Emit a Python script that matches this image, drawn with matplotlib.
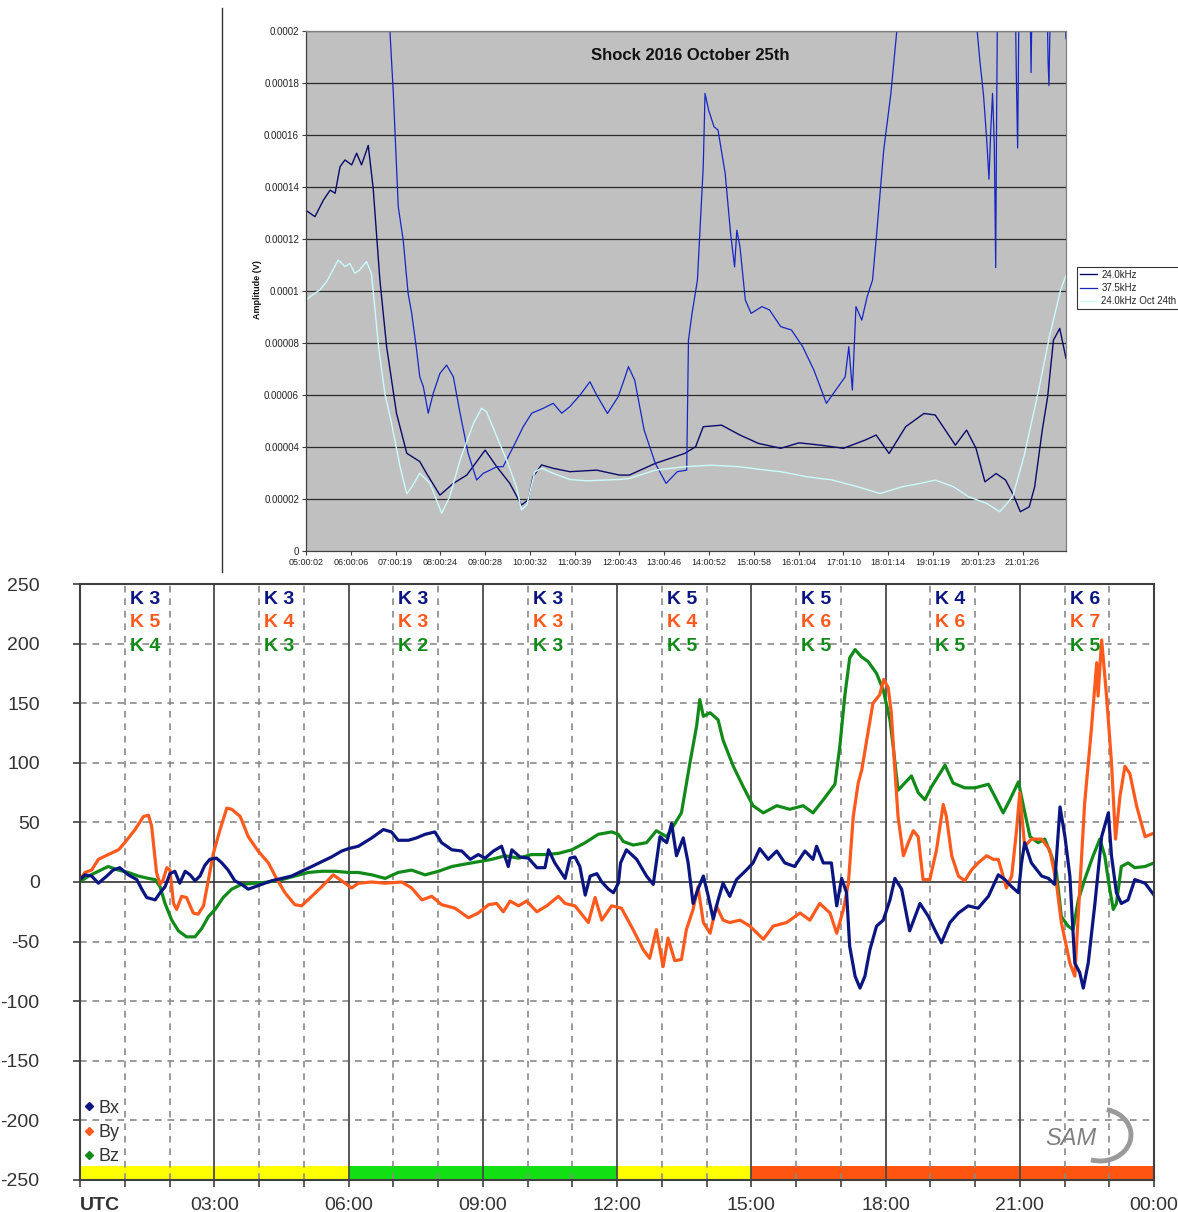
import numpy as np
import matplotlib
matplotlib.use("Agg")
import matplotlib.pyplot as plt
from matplotlib.lines import Line2D
from matplotlib.patches import Arc

plt.rcParams['font.family'] = ['Liberation Sans', 'DejaVu Sans']

# ---------------- top chart: VLF amplitude (values in 1e-5 V, time in hours UTC)
vlf_tick_labels = ["05:00:02", "06:00:06", "07:00:19", "08:00:24", "09:00:28",
                   "10:00:32", "11:00:39", "12:00:43", "13:00:46", "14:00:52",
                   "15:00:58", "16:01:04", "17:01:10", "18:01:14", "19:01:19",
                   "20:01:23", "21:01:26"]
amp_tick_labels = ["0", "0.00002", "0.00004", "0.00006", "0.00008", "0.0001",
                   "0.00012", "0.00014", "0.00016", "0.00018", "0.0002"]

h24 = [5.00, 5.20, 5.39, 5.54, 5.65, 5.76, 5.87, 6.02, 6.13, 6.24, 6.39, 6.50, 6.65,
       6.80, 7.02, 7.25, 7.54, 7.69, 7.99, 8.29, 8.59, 9.00, 9.26, 9.55, 9.81, 9.96,
       10.07, 10.26, 10.52, 10.89, 11.49, 12.00, 12.22, 12.80, 13.45, 13.70, 13.87,
       14.28, 14.69, 15.10, 15.60, 16.01, 16.50, 17.00, 17.49, 17.73, 18.02, 18.39,
       18.80, 19.05, 19.50, 19.75, 19.96, 20.16, 20.41, 20.62, 20.78, 20.95, 21.15,
       21.27, 21.44, 21.56, 21.69, 21.83, 21.97]
v24 = [13.10, 12.86, 13.50, 13.88, 13.76, 14.78, 15.04, 14.85, 15.30, 14.85, 15.60,
       13.95, 10.42, 7.86, 5.30, 3.76, 3.44, 2.99, 2.15, 2.60, 2.92, 3.88, 3.24, 2.60,
       1.77, 1.96, 2.86, 3.31, 3.18, 3.05, 3.11, 2.92, 2.92, 3.37, 3.75, 4.01, 4.78,
       4.84, 4.46, 4.14, 3.95, 4.16, 4.07, 3.95, 4.27, 4.46, 3.75, 4.78, 5.29, 5.23,
       4.07, 4.65, 3.95, 2.66, 2.98, 2.73, 2.21, 1.51, 1.70, 2.47, 4.65, 5.93, 8.11,
       8.56, 7.41]

h375 = [5.00, 6.85, 6.875, 6.95, 7.06, 7.17, 7.28, 7.36, 7.47, 7.54, 7.62, 7.73, 7.84,
        7.99, 8.14, 8.29, 8.44, 8.62, 8.81, 8.96, 9.11, 9.26, 9.40, 9.63, 9.85, 10.04,
        10.30, 10.52, 10.71, 10.89, 11.12, 11.34, 11.49, 11.73, 11.97, 12.10, 12.20,
        12.34, 12.55, 12.80, 13.04, 13.29, 13.50, 13.54, 13.62, 13.74, 13.87, 13.91,
        13.99, 14.11, 14.20, 14.36, 14.48, 14.57, 14.62, 14.69, 14.81, 14.94, 15.18,
        15.35, 15.60, 15.84, 16.09, 16.34, 16.62, 16.83, 17.04, 17.12, 17.20, 17.28,
        17.41, 17.53, 17.65, 17.73, 17.90, 18.06, 18.19, 18.30, 19.90, 19.96, 20.05,
        20.13, 20.20, 20.25, 20.29, 20.33, 20.37, 20.40, 20.42, 20.44, 20.84, 20.86,
        20.89, 20.92, 21.17, 21.19, 21.21, 21.55, 21.57, 21.59, 21.62, 21.95, 21.97]
v375 = [25.0, 21.0, 19.97, 17.60, 13.24, 11.96, 9.91, 9.14, 7.73, 6.70, 6.32, 5.30, 6.06,
        6.83, 7.15, 6.70, 5.30, 3.76, 2.73, 2.99, 3.11, 3.24, 3.24, 4.01, 4.78, 5.30,
        5.49, 5.68, 5.30, 5.55, 6.00, 6.51, 6.00, 5.29, 5.93, 6.57, 7.09, 6.57, 4.65,
        3.37, 2.60, 3.05, 3.11, 8.11, 9.14, 10.42, 14.78, 17.60, 16.96, 16.32, 16.19,
        14.52, 12.22, 10.93, 12.34, 11.70, 9.65, 9.14, 9.40, 9.27, 8.63, 8.50, 7.86,
        6.96, 5.68, 6.19, 6.70, 7.86, 6.19, 9.40, 8.88, 9.78, 10.42, 11.96, 15.42,
        17.60, 19.97, 25.0, 25.0, 20.5, 18.8, 17.5, 15.8, 14.3, 16.2, 17.6, 15.6, 10.9,
        16.5, 21.0, 21.0, 18.4, 15.5, 21.0, 21.0, 18.4, 21.0, 21.0, 18.8, 17.9, 21.0,
        21.0, 19.7]

h24_oct24 = [5.00, 5.09, 5.31, 5.46, 5.72, 5.87, 5.98, 6.09, 6.20, 6.35, 6.46, 6.52,
             6.62, 6.76, 6.91, 7.10, 7.25, 7.36, 7.54, 7.77, 8.03, 8.21, 8.44, 8.74,
             8.92, 9.03, 9.26, 9.48, 9.70, 9.81, 9.93, 10.11, 10.26, 10.52, 10.89,
             11.26, 12.00, 12.22, 12.80, 13.45, 14.03, 14.69, 15.27, 15.60, 16.17,
             16.75, 17.32, 17.82, 18.31, 18.72, 19.05, 19.46, 19.79, 20.20, 20.49,
             20.78, 21.03, 21.36, 21.60, 21.85, 21.97]
v24_oct24 = [9.65, 9.78, 10.04, 10.36, 11.19, 10.94, 11.06, 10.68, 10.81, 11.13, 10.68,
             9.65, 7.86, 6.06, 4.91, 3.24, 2.20, 2.46, 2.99, 2.60, 1.45, 2.09, 3.50,
             4.91, 5.49, 5.36, 4.40, 3.50, 2.46, 1.58, 1.77, 3.05, 3.18, 2.99, 2.75,
             2.70, 2.75, 2.79, 3.11, 3.24, 3.30, 3.24, 3.11, 3.05, 2.86, 2.73, 2.47,
             2.21, 2.47, 2.60, 2.73, 2.47, 2.09, 1.83, 1.51, 2.09, 3.63, 6.19, 8.24,
             10.04, 10.60]

# ---------------- bottom chart: magnetometer (nT, hours UTC)
t_bx = [0.00, 0.11, 0.26, 0.41, 0.60, 0.74, 0.89, 1.08, 1.27, 1.38, 1.49, 1.68, 1.79,
        1.90, 2.01, 2.12, 2.23, 2.35, 2.46, 2.57, 2.68, 2.79, 2.90, 3.05, 3.17, 3.31,
        3.46, 3.61, 3.76, 3.91, 4.06, 4.28, 4.51, 4.73, 4.95, 5.18, 5.40, 5.62, 5.85,
        6.00, 6.22, 6.52, 6.78, 6.96, 7.11, 7.34, 7.52, 7.71, 7.93, 8.08, 8.31, 8.53,
        8.72, 8.90, 9.05, 9.24, 9.42, 9.57, 9.65, 9.83, 10.02, 10.21, 10.39, 10.47,
        10.61, 10.84, 10.95, 11.06, 11.17, 11.29, 11.40, 11.55, 11.66, 11.81, 11.92,
        12.03, 12.08, 12.21, 12.44, 12.66, 12.81, 12.96, 13.11, 13.22, 13.33, 13.48,
        13.59, 13.70, 13.81, 13.93, 14.04, 14.15, 14.26, 14.37, 14.52, 14.67, 14.89,
        15.04, 15.19, 15.38, 15.57, 15.75, 15.97, 16.20, 16.38, 16.46, 16.61, 16.79,
        16.91, 17.02, 17.13, 17.20, 17.32, 17.43, 17.54, 17.65, 17.80, 17.95, 18.10,
        18.21, 18.36, 18.54, 18.77, 18.96, 19.10, 19.25, 19.44, 19.63, 19.85, 20.07,
        20.30, 20.52, 20.67, 20.82, 20.97, 21.04, 21.11, 21.26, 21.49, 21.64, 21.78,
        21.90, 22.01, 22.12, 22.23, 22.34, 22.42, 22.53, 22.68, 22.83, 22.98, 23.05,
        23.16, 23.27, 23.42, 23.57, 23.80, 24.00]
bx = [2, 6, 5, -1, 5, 10, 12, 6, 2, -6, -13, -15, -9, -4, 7, 9, -1, 9, 6, 1, 5, 14, 19,
      20, 16, 10, 1, -2, -6, -4, -2, 1, 3, 5, 9, 13, 17, 21, 26, 28, 30, 37, 44, 42, 35,
      35, 37, 40, 42, 33, 27, 26, 19, 23, 20, 26, 30, 13, 27, 21, 20, 12, 12, 27, 16, 3,
      20, 21, 13, -11, 5, 7, 0, -6, -9, -1, 16, 27, 19, 5, -2, 38, 33, 49, 22, 37, 16,
      -18, -6, 5, -12, -31, -15, -1, -12, 2, 10, 16, 28, 19, 26, 16, 13, 26, 19, 30, 16,
      16, -20, 3, -9, -54, -79, -89, -79, -57, -37, -32, -15, 3, -6, -41, -18, -29, -40,
      -51, -34, -26, -20, -22, -12, 6, 2, -4, -9, 16, 33, 16, 5, 3, -2, 63, 38, 5, -68,
      -76, -89, -68, -18, 38, 58, 22, -9, -18, -15, 2, -1, -11]

t_by = [0.00, 0.11, 0.26, 0.41, 0.63, 0.86, 1.00, 1.23, 1.42, 1.53, 1.60, 1.71, 1.79,
        1.86, 1.94, 2.01, 2.09, 2.16, 2.27, 2.38, 2.53, 2.64, 2.76, 2.87, 2.98, 3.13,
        3.28, 3.39, 3.58, 3.76, 3.98, 4.21, 4.39, 4.58, 4.80, 4.95, 5.18, 5.40, 5.66,
        5.85, 5.96, 6.07, 6.22, 6.52, 6.82, 7.19, 7.41, 7.64, 7.86, 8.08, 8.38, 8.68,
        8.90, 9.13, 9.31, 9.46, 9.61, 9.80, 9.98, 10.21, 10.43, 10.69, 10.84, 11.06,
        11.21, 11.36, 11.51, 11.66, 11.88, 12.10, 12.36, 12.59, 12.73, 12.88, 13.03,
        13.14, 13.29, 13.44, 13.55, 13.70, 13.81, 13.93, 14.08, 14.22, 14.37, 14.52,
        14.75, 14.97, 15.27, 15.49, 15.79, 16.09, 16.31, 16.53, 16.76, 16.91, 17.06,
        17.17, 17.28, 17.39, 17.47, 17.58, 17.72, 17.87, 17.96, 18.06, 18.13, 18.21,
        18.28, 18.40, 18.51, 18.62, 18.73, 18.84, 18.99, 19.14, 19.29, 19.36, 19.48,
        19.63, 19.77, 19.92, 20.07, 20.26, 20.41, 20.52, 20.59, 20.70, 20.82, 20.93,
        21.00, 21.11, 21.26, 21.49, 21.67, 21.82, 21.93, 22.12, 22.23, 22.34, 22.45,
        22.60, 22.72, 22.75, 22.83, 22.94, 23.05, 23.14, 23.24, 23.35, 23.46, 23.61,
        23.80, 24.00]
by = [2, 8, 10, 19, 23, 27, 33, 44, 55, 56, 47, 8, -2, 2, 12, 10, -18, -23, -12, -13,
      -26, -27, -20, 2, 24, 44, 62, 61, 55, 38, 26, 16, 3, -9, -19, -20, -12, -4, 6, 1,
      -2, -5, -1, 0, -1, 0, -5, -15, -12, -19, -22, -30, -26, -19, -18, -25, -16, -20,
      -16, -25, -20, -12, -18, -20, -27, -34, -13, -32, -20, -22, -40, -57, -64, -40,
      -71, -47, -66, -65, -40, -23, -4, -34, -43, -20, -32, -34, -32, -37, -48, -37,
      -34, -26, -32, -18, -26, -43, -23, -1, 55, 83, 94, 119, 150, 157, 170, 163, 142,
      94, 55, 22, 33, 43, 38, 2, 2, 27, 65, 55, 22, 5, 1, 10, 16, 22, 19, 19, 10, -5, 5,
      44, 75, 30, 36, 36, 27, -1, -34, -68, -79, -6, 66, 128, 184, 156, 203, 156, 100,
      36, 72, 97, 91, 64, 38, 41]

t_bz = [0.00, 0.19, 0.41, 0.63, 0.86, 1.08, 1.30, 1.53, 1.68, 1.79, 1.90, 2.05, 2.20,
        2.38, 2.57, 2.72, 2.87, 3.02, 3.20, 3.39, 3.61, 3.91, 4.21, 4.51, 4.80, 5.10,
        5.40, 5.70, 6.00, 6.22, 6.52, 6.82, 7.11, 7.41, 7.71, 8.01, 8.31, 8.60, 8.90,
        9.20, 9.50, 9.80, 10.09, 10.39, 10.69, 10.99, 11.29, 11.58, 11.88, 12.03, 12.14,
        12.36, 12.66, 12.88, 13.11, 13.26, 13.44, 13.63, 13.78, 13.85, 13.93, 14.08,
        14.26, 14.37, 14.60, 14.82, 15.04, 15.27, 15.57, 15.86, 16.16, 16.38, 16.61,
        16.87, 16.98, 17.09, 17.20, 17.32, 17.46, 17.61, 17.80, 17.95, 18.10, 18.17,
        18.28, 18.43, 18.58, 18.73, 18.88, 19.03, 19.18, 19.33, 19.51, 19.77, 20.00,
        20.30, 20.44, 20.63, 20.78, 20.97, 21.08, 21.23, 21.41, 21.56, 21.71, 21.82,
        21.93, 22.08, 22.19, 22.31, 22.45, 22.64, 22.79, 22.90, 23.01, 23.09, 23.16,
        23.27, 23.42, 23.57, 23.80, 24.00]
bz = [0, 5, 9, 13, 10, 8, 5, 3, 2, -4, -18, -32, -41, -46, -46, -39, -29, -23, -13, -6,
      -2, -1, 0, 2, 5, 8, 9, 9, 8, 8, 6, 3, 8, 10, 6, 9, 13, 15, 17, 19, 22, 20, 23, 23,
      24, 27, 33, 40, 42, 40, 34, 31, 33, 43, 38, 47, 58, 100, 131, 153, 139, 142, 136,
      119, 97, 80, 64, 58, 64, 61, 64, 58, 69, 82, 114, 156, 188, 195, 189, 185, 175,
      161, 136, 114, 77, 83, 89, 75, 69, 80, 89, 98, 83, 79, 79, 82, 72, 58, 69, 84, 64,
      38, 33, 36, 22, 8, -29, -37, -40, -15, 2, 22, 36, 22, -6, -23, -18, 13, 16, 12,
      13, 16]

k_bx = [3, 3, 3, 3, 5, 5, 4, 6]
k_by = [5, 4, 3, 3, 4, 6, 6, 7]
k_bz = [4, 3, 2, 3, 5, 5, 5, 5]

band_start = [0, 6, 12, 15]
band_len = [6, 6, 3, 9]
band_colors = ['#FFFF00', '#12E012', '#FFFF00', '#FF5511']

utc_labels = ["UTC", "03:00", "06:00", "09:00", "12:00", "15:00", "18:00", "21:00", "00:00"]

C_BX, C_BY, C_BZ = '#0A1580', '#FF5A1E', '#128A1A'

W, H = 1178, 1212
fig = plt.figure(figsize=(W / 100, H / 100), dpi=100)

def rect(x0, y0, x1, y1):
    return [x0 / W, 1 - y1 / H, (x1 - x0) / W, (y1 - y0) / H]

# ================= top chart
ax1 = fig.add_axes(rect(306, 31, 1066, 551))
ax1.set_facecolor('#C0C0C0')
scale = 1e-5
ax1.plot(h24, np.array(v24) * scale, color='#0A0A6A', lw=1.0, label='24.0kHz')
ax1.plot(h375, np.array(v375) * scale, color='#1426C4', lw=0.9, label='37.5kHz')
ax1.plot(h24_oct24, np.array(v24_oct24) * scale, color='#CCFBFB', lw=1.0,
         label='24.0kHz Oct 24th')
ax1.set_xlim(5, 21.97)
ax1.set_ylim(0, 20 * scale)
amp_ticks = np.arange(0, 21, 2) * scale
ax1.set_yticks(amp_ticks)
ax1.set_yticklabels(amp_tick_labels, fontsize=7, color='#222222')
ax1.set_xticks(np.arange(5, 5 + len(vlf_tick_labels)))
ax1.set_xticklabels(vlf_tick_labels, fontsize=6.5, color='#222222')
ax1.tick_params(axis='both', length=3, width=0.8, color='#404040', pad=2)
for yv in amp_ticks[1:]:
    ax1.axhline(yv, color='#2a2a2a', lw=0.9, zorder=0.5)
for s in ['top', 'right']:
    ax1.spines[s].set_color('#808080')
for s in ['left', 'bottom']:
    ax1.spines[s].set_color('#404040')
for s in ax1.spines.values():
    s.set_linewidth(0.9)
ax1.text(0.505, 0.952, 'Shock 2016 October 25th', transform=ax1.transAxes,
         ha='center', va='center', fontsize=12, fontweight='bold', color='#111111')
fig.text(258 / W, 1 - 290 / H, 'Amplitude (V)', rotation=90, ha='center', va='center',
         fontsize=6.5, fontweight='bold', color='#111111')
leg1 = fig.legend(loc='center left', bbox_to_anchor=(1077 / W, 1 - 288 / H), fontsize=7,
                  frameon=True, fancybox=False, edgecolor='#000000', borderpad=0.3,
                  handlelength=1.8, handletextpad=0.4, labelspacing=0.35,
                  borderaxespad=0)
leg1.get_frame().set_linewidth(0.8)
for t in leg1.get_texts():
    t.set_color('#222222')

fig.add_artist(Line2D([222 / W, 222 / W], [1 - 8 / H, 1 - 572 / H], color='#333333', lw=1.0))

# ================= bottom chart
ax2 = fig.add_axes(rect(80, 584, 1154, 1180))
ax2.set_xlim(0, 24)
ax2.set_ylim(-250, 250)

ax2.broken_barh(list(zip(band_start, band_len)), (-250, 12), facecolors=band_colors,
                zorder=0.3)

for yv in range(-250, 251, 50):
    if yv == 0:
        ax2.axhline(0, color='#404040', lw=1.3, zorder=1)
    elif abs(yv) < 250:
        ax2.axhline(yv, color='#8a8a8a', lw=1.2, ls=(0, (4, 3.5)), zorder=0.5)
for xv in range(1, 24):
    if xv % 3 == 0:
        ax2.axvline(xv, color='#4a4a4a', lw=1.3, zorder=0.6)
    else:
        ax2.axvline(xv, color='#8a8a8a', lw=1.2, ls=(0, (4, 3.5)), zorder=0.5)

ax2.plot(t_bz, bz, color=C_BZ, lw=2.3, zorder=2)
ax2.plot(t_by, by, color=C_BY, lw=2.3, zorder=2.1)
ax2.plot(t_bx, bx, color=C_BX, lw=2.3, zorder=2.2)

ax2.set_yticks(range(-250, 251, 50))
ax2.set_yticklabels([str(v) for v in range(-250, 251, 50)], fontsize=14, color='#333333')
ax2.set_xticks(range(0, 25))
ax2.set_xticklabels([utc_labels[i // 3] if i % 3 == 0 else '' for i in range(25)],
                    fontsize=14, color='#333333')
ax2.get_xticklabels()[0].set_fontweight('bold')
ax2.get_xticklabels()[0].set_ha('left')
ax2.tick_params(axis='y', length=5, width=1.2, color='#404040', pad=24)
ax2.tick_params(axis='x', length=5, width=1.2, color='#404040', pad=7)
for s in ax2.spines.values():
    s.set_color('#404040')
    s.set_linewidth(1.5)

k_rows = [(k_bx, C_BX, 236.6), (k_by, C_BY, 217.4), (k_bz, C_BZ, 197.2)]
for vals, col, yv in k_rows:
    for i, k in enumerate(vals):
        ax2.text(3 * i + 1.45, yv, f'K {k}', ha='center', va='center', fontsize=14,
                 fontweight='bold', color=col, zorder=3)

handles = [Line2D([], [], marker='D', ms=4, ls='none', color=c) for c in (C_BX, C_BY, C_BZ)]
leg2 = ax2.legend(handles, ['Bx', 'By', 'Bz'], loc='lower left',
                  bbox_to_anchor=(0.004, 0.025), frameon=False, fontsize=13,
                  handlelength=0.5, handletextpad=0.3, labelspacing=0.4, borderpad=0,
                  borderaxespad=0)
for t in leg2.get_texts():
    t.set_color('#333333')

# SAM logo (swoosh drawn in inch space so it is not stretched)
ax2.text(22.15, -215, 'SAM', fontsize=17, fontstyle='italic', color='#808080',
         ha='center', va='center', zorder=3)
fig.add_artist(Arc((11.0, 0.77), 0.62, 0.52, theta1=-110, theta2=75, color='#9a9a9a',
                   lw=3.5, transform=fig.dpi_scale_trans))

fig.savefig('out.png', dpi=100)
